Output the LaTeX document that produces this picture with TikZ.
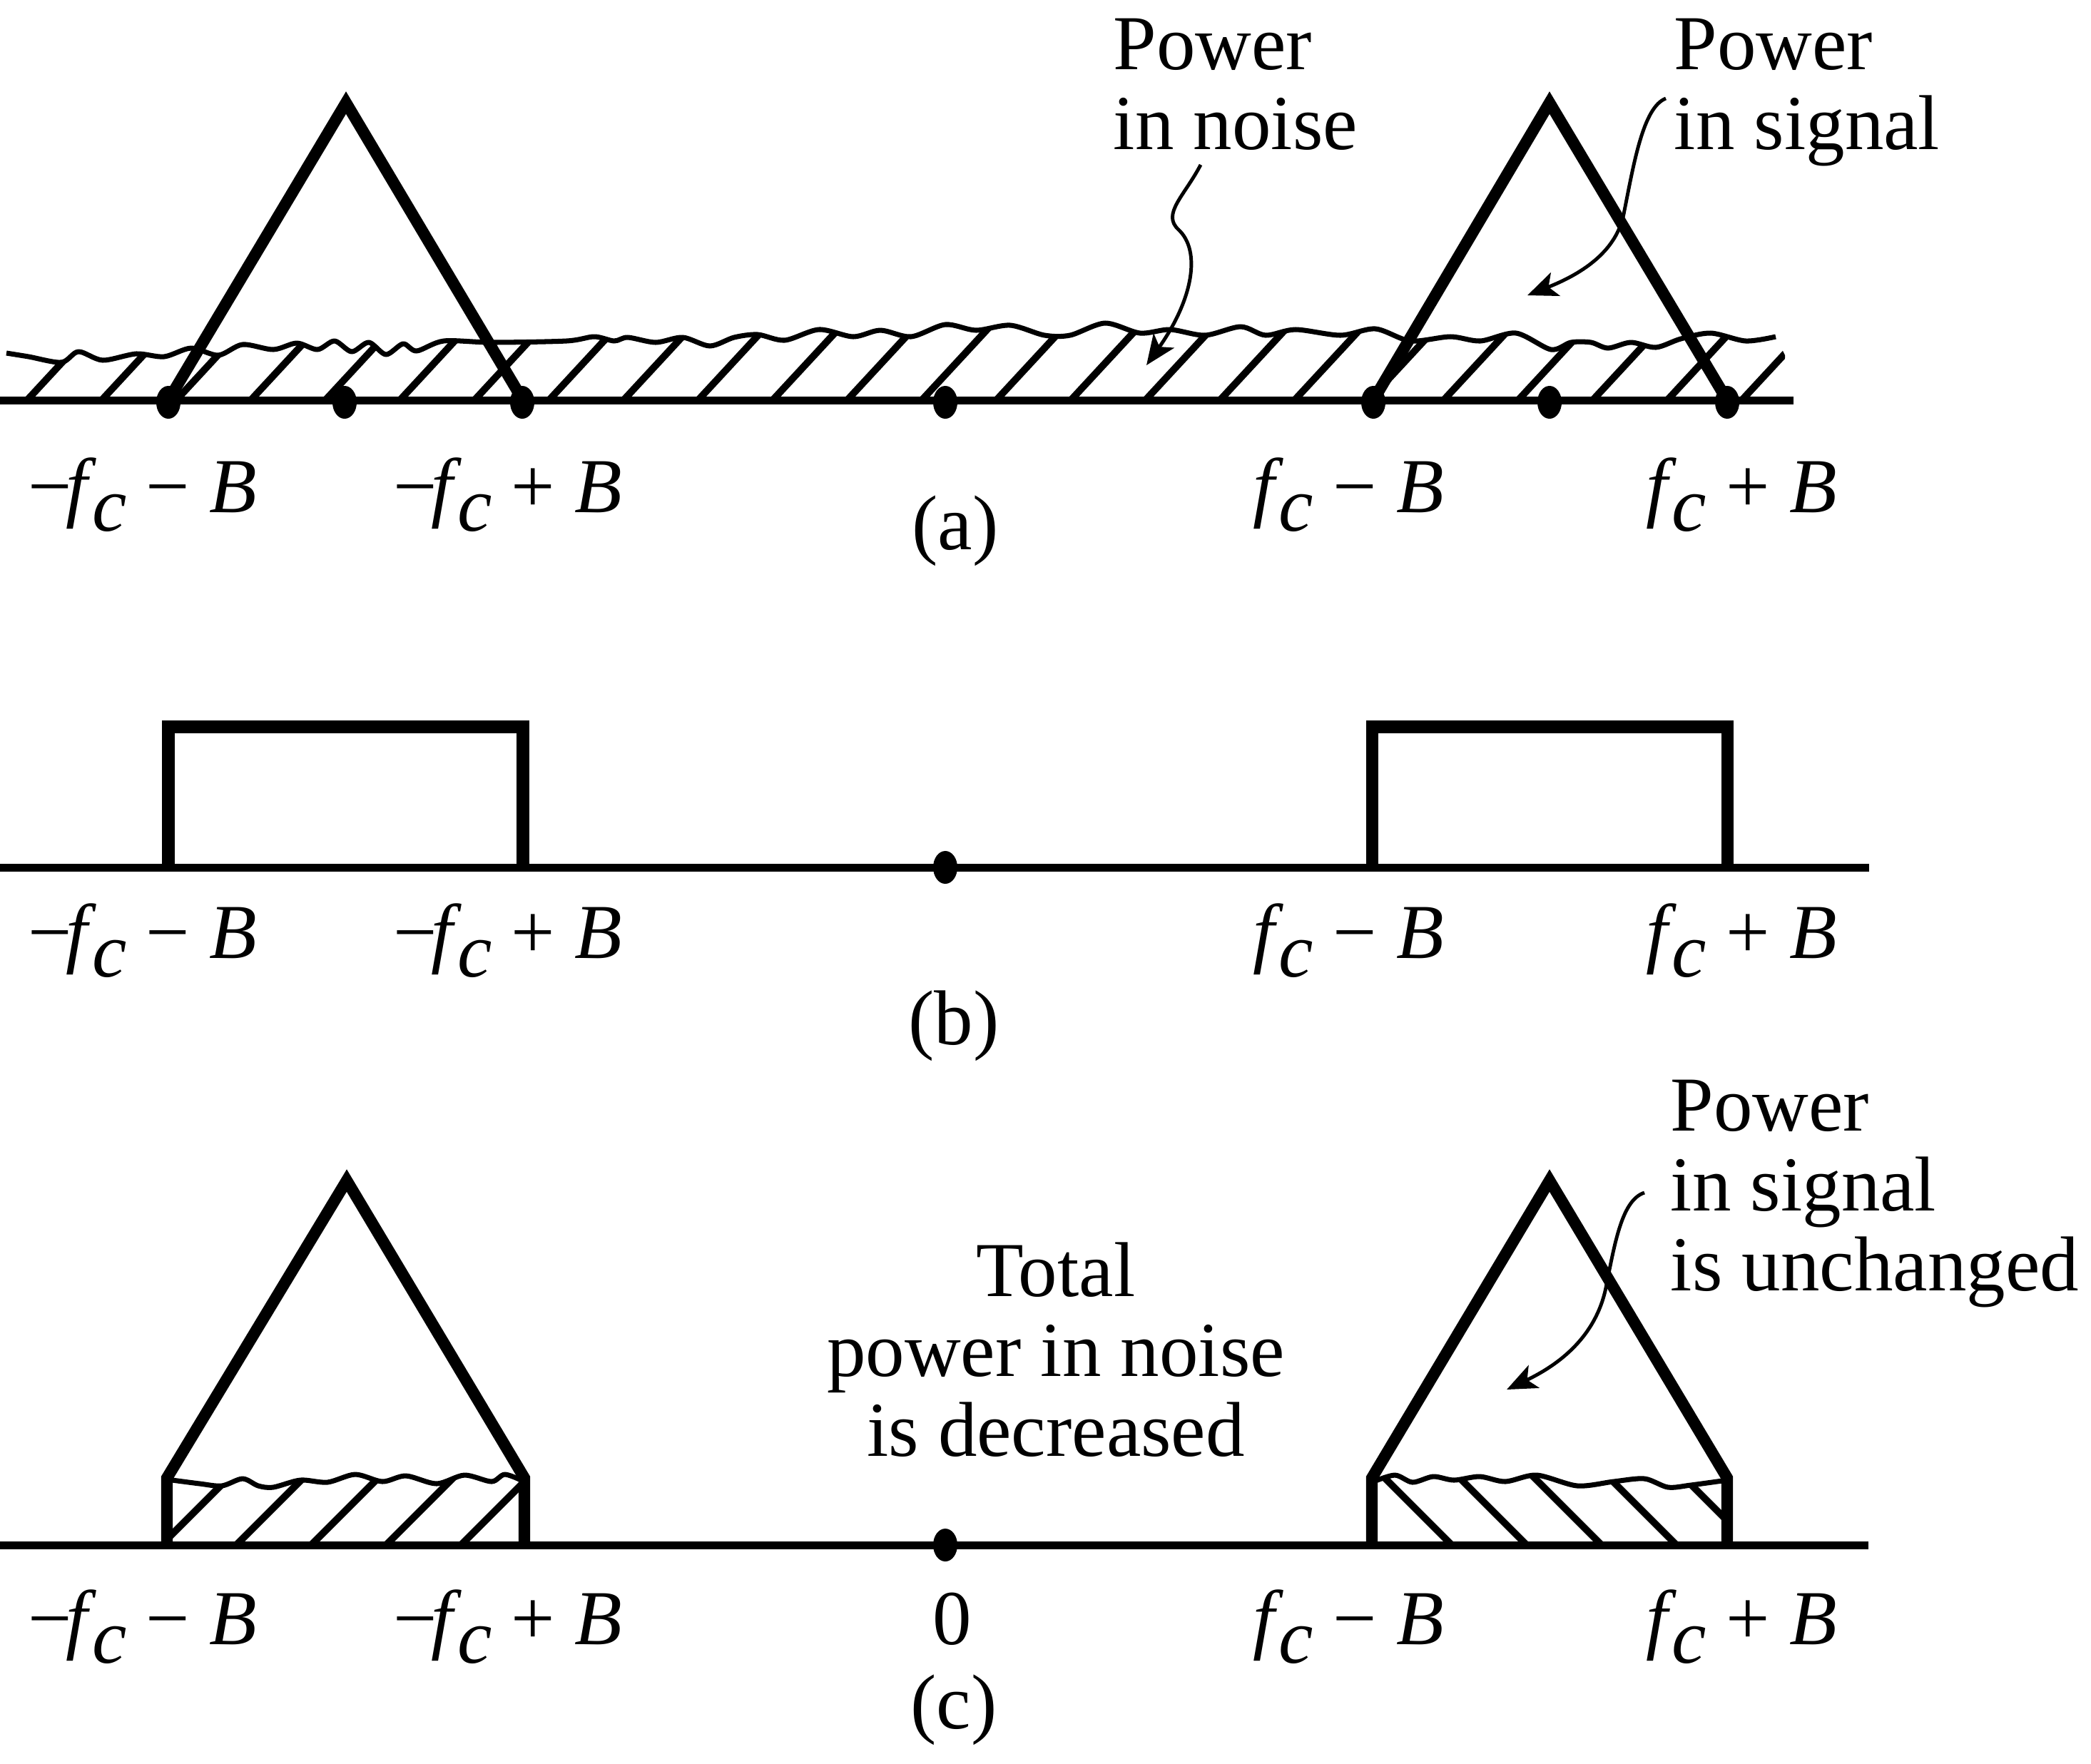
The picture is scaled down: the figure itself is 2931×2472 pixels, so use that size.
\documentclass[tikz,border=0pt]{standalone}
\usepackage{fontspec}
\setmainfont{Liberation Serif}
\usetikzlibrary{arrows.meta}
\newcommand\fcsub{\textit{f}\kern-0.06em\raisebox{-0.24em}{\textit{c}}}
\begin{document}
\begin{tikzpicture}[x=0.01cm,y=-0.01cm,
  axisline/.style={line width=3.13pt},
  bold/.style={line width=4.6pt, line join=miter, miter limit=10},
  hatchline/.style={line width=2.8pt},
  wave/.style={line width=2pt, line join=round},
  arr/.style={line width=1.4pt, -{Stealth[length=12pt,width=10pt,inset=3pt]}},
  txt/.style={inner sep=0pt, font=\fontsize{31}{31.9}\selectfont},
  lbl/.style={txt, anchor=base},
  dot/.style={fill=black},
]
\path[fill=white] (0,0) rectangle (2931,2472);
\useasboundingbox (0,0) rectangle (2931,2472);

% ================= (a) =================
\begin{scope}
\clip plot[smooth, tension=0.5] coordinates {(9,495) (40,500) (86,508) (110,493) (144,505) (191,496) (230,500) (268,488) (306,498) (340,483) (383,490) (416,481) (445,490) (469,478) (493,493) (517,480) (541,497) (565,482) (584,492) (622,478) (689,480) (794,478) (833,472) (861,478) (880,473) (919,480) (957,473) (995,485) (1029,473) (1062,469) (1100,477) (1148,462) (1196,472) (1234,463) (1277,472) (1325,455) (1368,463) (1416,456) (1464,470) (1500,470) (1549,453) (1598,467) (1640,462) (1689,470) (1739,458) (1774,470) (1816,462) (1879,470) (1928,461) (1977,478) (2033,472) (2075,478) (2125,467) (2174,490) (2202,480) (2230,480) (2254,488) (2286,480) (2321,487) (2356,475) (2398,467) (2447,478) (2489,472)} -- (2502,498) -- (2502,561) -- (0,561) -- (0,495) -- cycle;
\foreach \k in {0,...,23} \draw[hatchline] ({38+104.5*\k},561) -- ++(125,-135);
\end{scope}
\draw[wave] plot[smooth, tension=0.5] coordinates {(9,495) (40,500) (86,508) (110,493) (144,505) (191,496) (230,500) (268,488) (306,498) (340,483) (383,490) (416,481) (445,490) (469,478) (493,493) (517,480) (541,497) (565,482) (584,492) (622,478) (689,480) (794,478) (833,472) (861,478) (880,473) (919,480) (957,473) (995,485) (1029,473) (1062,469) (1100,477) (1148,462) (1196,472) (1234,463) (1277,472) (1325,455) (1368,463) (1416,456) (1464,470) (1500,470) (1549,453) (1598,467) (1640,462) (1689,470) (1739,458) (1774,470) (1816,462) (1879,470) (1928,461) (1977,478) (2033,472) (2075,478) (2125,467) (2174,490) (2202,480) (2230,480) (2254,488) (2286,480) (2321,487) (2356,475) (2398,467) (2447,478) (2489,472)};

\draw[axisline] (0,561) -- (2514,561);
\draw[bold] (236,561) -- (485,144) -- (733,561);
\draw[bold] (1925,561) -- (2172,144) -- (2421,561);
\foreach \x in {236,483,732,1325,1925,2172,2421}
  \fill[dot] (\x,564) ellipse [x radius=0.17cm, y radius=0.23cm];

\node[txt, anchor=base west] (noiseA) at (1560,97) {\begin{tabular}[t]{@{}l@{}}Power\\in noise\end{tabular}};
\node[txt, anchor=base west] (signalA) at (2346,97) {\begin{tabular}[t]{@{}l@{}}Power\\in signal\end{tabular}};

\coordinate (nAs) at (1683,231);
\coordinate (nAe) at (1607,512);
\draw[arr] (nAs) .. controls (1660,275) and (1628,300) .. (1652,322) .. controls (1684,352) and (1672,420) .. (nAe);
\coordinate (sAs) at (2335,138);
\coordinate (sAe) at (2141,414);
\draw[arr] (sAs) .. controls (2303,150) and (2290,230) .. (2276,300) .. controls (2266,350) and (2222,382) .. (sAe);

\node[lbl] (a1) at (200,718) {−\kern-0.08em\fcsub{} − \textit{B}};
\node[lbl] (a2) at (712,718) {−\kern-0.08em\fcsub{} + \textit{B}};
\node[lbl] (a3) at (1890,718) {\fcsub{} − \textit{B}};
\node[lbl] (a4) at (2441,718) {\fcsub{} + \textit{B}};
\node[lbl] (capa) at (1339,770) {(a)};

% ================= (b) =================
\draw[axisline] (0,1216) -- (2620,1216);
\draw[line width=4.85pt, line join=miter] (236,1216) -- (236,1019) -- (733,1019) -- (733,1216);
\draw[line width=4.85pt, line join=miter] (1923,1216) -- (1923,1019) -- (2421,1019) -- (2421,1216);
\fill[dot] (1325,1216) ellipse [x radius=0.17cm, y radius=0.23cm];

\node[lbl] (b1) at (200,1343) {−\kern-0.08em\fcsub{} − \textit{B}};
\node[lbl] (b2) at (712,1343) {−\kern-0.08em\fcsub{} + \textit{B}};
\node[lbl] (b3) at (1890,1343) {\fcsub{} − \textit{B}};
\node[lbl] (b4) at (2441,1343) {\fcsub{} + \textit{B}};
\node[lbl] (capb) at (1337,1464) {(b)};

% ================= (c) =================
\begin{scope}
\clip plot[smooth, tension=0.5] coordinates {(234,2074) (280,2080) (311,2083) (340,2073) (362,2083) (383,2085) (421,2075) (459,2078) (498,2067) (536,2077) (569,2069) (612,2080) (651,2068) (689,2077) (708,2067) (737,2078)} -- (737,2166) -- (234,2166) -- cycle;
\foreach \k in {0,...,4} \draw[hatchline] ({226+105*\k},2166) -- ++(130,-130);
\end{scope}
\draw[wave] plot[smooth, tension=0.5] coordinates {(234,2074) (280,2080) (311,2083) (340,2073) (362,2083) (383,2085) (421,2075) (459,2078) (498,2067) (536,2077) (569,2069) (612,2080) (651,2068) (689,2077) (708,2067) (737,2078)};

\begin{scope}
\clip plot[smooth, tension=0.5] coordinates {(1923,2078) (1955,2068) (1980,2078) (2009,2070) (2038,2075) (2074,2070) (2110,2077) (2154,2068) (2211,2083) (2262,2077) (2305,2073) (2338,2085) (2370,2082) (2421,2075)} -- (2421,2166) -- (1923,2166) -- cycle;
\foreach \k in {0,...,4} \draw[hatchline] ({1944+105*\k-40},{2075-40}) -- ++(200,200);
\end{scope}
\draw[wave] plot[smooth, tension=0.5] coordinates {(1923,2078) (1955,2068) (1980,2078) (2009,2070) (2038,2075) (2074,2070) (2110,2077) (2154,2068) (2211,2083) (2262,2077) (2305,2073) (2338,2085) (2370,2082) (2421,2075)};

\draw[axisline] (0,2166) -- (2619,2166);
\draw[bold] (234,2166) -- (234,2072) -- (486,1655) -- (735,2072) -- (735,2166);
\draw[bold] (1923,2166) -- (1923,2072) -- (2172,1655) -- (2421,2072) -- (2421,2166);
\fill[dot] (1325,2166) ellipse [x radius=0.17cm, y radius=0.23cm];

\node[txt, anchor=base] (totC) at (1480,1817) {\begin{tabular}[t]{@{}c@{}}Total\\power in noise\\is decreased\end{tabular}};
\node[txt, anchor=base west] (signalC) at (2341,1585) {\begin{tabular}[t]{@{}l@{}}Power\\in signal\\is unchanged\end{tabular}};

\coordinate (sCs) at (2305,1672);
\coordinate (sCe) at (2112,1948);
\draw[arr] (sCs) .. controls (2274,1682) and (2264,1740) .. (2252,1800) .. controls (2240,1868) and (2192,1910) .. (sCe);

\node[lbl] (c1) at (200,2305) {−\kern-0.08em\fcsub{} − \textit{B}};
\node[lbl] (c2) at (712,2305) {−\kern-0.08em\fcsub{} + \textit{B}};
\node[lbl] (c0) at (1335,2305) {0};
\node[lbl] (c3) at (1890,2305) {\fcsub{} − \textit{B}};
\node[lbl] (c4) at (2441,2305) {\fcsub{} + \textit{B}};
\node[lbl] (capc) at (1337,2423) {(c)};
\end{tikzpicture}
\end{document}
